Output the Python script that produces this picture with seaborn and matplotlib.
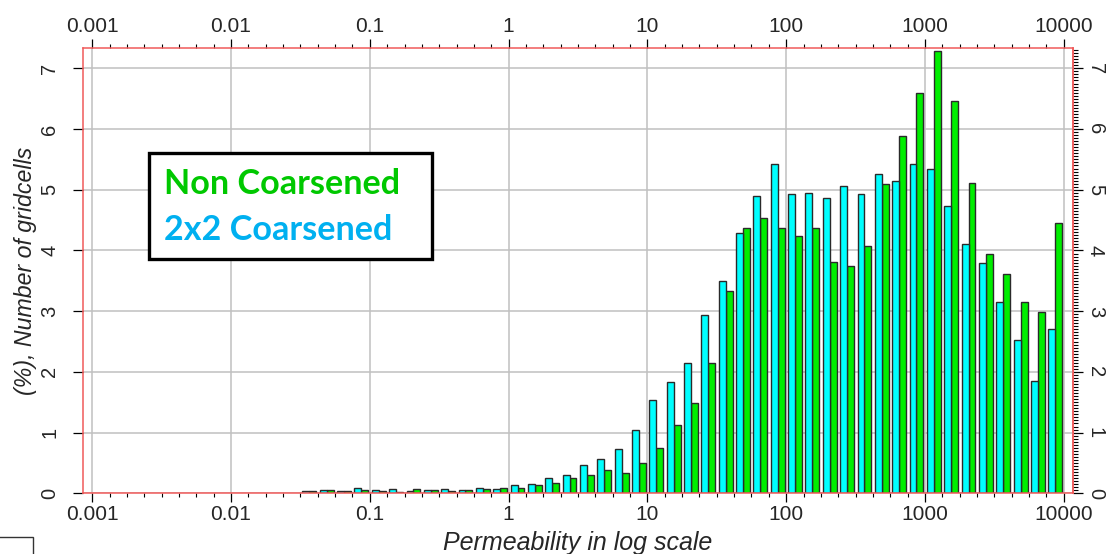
import numpy as np
import pandas as pd
import matplotlib
matplotlib.use("Agg")
import matplotlib.pyplot as plt
from matplotlib.patches import Rectangle
from matplotlib.ticker import FixedLocator, NullFormatter
import seaborn as sns

# Histogram bins: 8 per decade of permeability, from 10^-1.5 up to 10^4
bins_per_decade = 8
log_edge_first = -1.5
log_edge_last = 4.0

# Percentage of gridcells in each bin
coarse_2x2 = [0.03, 0.05, 0.03, 0.08, 0.05, 0.07, 0.03, 0.05, 0.07, 0.05, 0.09, 0.07,
              0.13, 0.15, 0.26, 0.30, 0.46, 0.56, 0.73, 1.05,
              1.54, 1.83, 2.14, 2.94, 3.50, 4.28, 4.90, 5.42,
              4.93, 4.95, 4.86, 5.07, 4.93, 5.26, 5.15, 5.43,
              5.35, 4.73, 4.11, 3.79, 3.15, 2.52, 1.85, 2.70]
non_coarse = [0.03, 0.05, 0.03, 0.05, 0.03, 0.02, 0.07, 0.05, 0.03, 0.05, 0.07, 0.09,
              0.09, 0.13, 0.17, 0.26, 0.30, 0.39, 0.33, 0.50,
              0.74, 1.12, 1.49, 2.15, 3.33, 4.37, 4.54, 4.37,
              4.24, 4.37, 3.81, 3.75, 4.07, 5.10, 5.88, 6.60,
              7.29, 6.46, 5.11, 3.95, 3.62, 3.15, 2.98, 4.45]

case_names = ["2x2 Coarsened", "Non Coarsened"]
x_tick_labels = ["0.001", "0.01", "0.1", "1", "10", "100", "1000", "10000"]
y_tick_values = [0, 1, 2, 3, 4, 5, 6, 7]

bar_colors = {"2x2 Coarsened": "#00FFFF", "Non Coarsened": "#00EE00"}
text_colors = {"2x2 Coarsened": "#00B0F0", "Non Coarsened": "#00C800"}
frame_red = "#f05a5a"

n_bins = len(coarse_2x2)
log_edges = np.linspace(log_edge_first, log_edge_last, n_bins + 1)
centers = 10 ** ((log_edges[:-1] + log_edges[1:]) / 2)

df = pd.concat([
    pd.DataFrame({"permeability": centers, "percent": coarse_2x2, "case": case_names[0]}),
    pd.DataFrame({"permeability": centers, "percent": non_coarse, "case": case_names[1]}),
], ignore_index=True)

sns.set_theme(style="white")
plt.rcParams["font.family"] = ["Liberation Sans", "DejaVu Sans"]

fig = plt.figure(figsize=(11.07, 5.54), dpi=100)
ax = fig.add_axes([82.7 / 1107, 1 - 493.3 / 554, (1073.3 - 82.7) / 1107, (493.3 - 47.7) / 554])

sns.histplot(data=df, x="permeability", weights="percent", hue="case",
             hue_order=case_names, palette=bar_colors, bins=log_edges.tolist(),
             log_scale=True, multiple="dodge", shrink=0.8, alpha=1,
             edgecolor="#2a2a2a", linewidth=1.0, legend=False, ax=ax)

ax.set_xlim(10 ** -3.069, 10 ** 4.069)
ax.set_ylim(0, 7.34)

# Decade ticks with bin-edge minor ticks
x_major = [float(s) for s in x_tick_labels]
ax.xaxis.set_major_locator(FixedLocator(x_major))
ax.set_xticks(x_major, x_tick_labels)
ax.xaxis.set_minor_locator(FixedLocator(10 ** np.arange(-3, 4.0001, 1 / bins_per_decade)))
ax.xaxis.set_minor_formatter(NullFormatter())
ax.tick_params(axis="x", which="both", direction="out", bottom=True, top=True,
               labelbottom=True, labeltop=True, color="black", labelsize=15, pad=2)
ax.tick_params(axis="x", which="major", length=6.5, width=0.9)
ax.tick_params(axis="x", which="minor", length=3.2, width=0.8)

y_minor = np.arange(0, 7.34, 0.05)


def style_y(axis_obj, side, rotation, pad):
    axis_obj.set_yticks(y_tick_values, [str(v) for v in y_tick_values])
    axis_obj.yaxis.set_minor_locator(FixedLocator(y_minor))
    axis_obj.tick_params(axis="y", which="both", direction="out", color="black",
                         labelsize=14.5, pad=pad)
    axis_obj.tick_params(axis="y", which="major", length=7, width=0.9)
    axis_obj.tick_params(axis="y", which="minor", length=3.5, width=0.8)
    for lab in axis_obj.get_yticklabels():
        lab.set_rotation(rotation)
        lab.set_va("center")
        lab.set_ha("right" if side == "left" else "left")


ax.tick_params(axis="y", left=True, right=False, labelleft=True, labelright=False)
style_y(ax, "left", 90, 10)

ax_right = ax.secondary_yaxis("right")
style_y(ax_right, "right", 270, 2)
ax_right.spines["right"].set_color(frame_red)
ax_right.spines["right"].set_linewidth(1.1)

ax.grid(True, which="major", color="#c0c0c0", linewidth=1.1)
ax.set_axisbelow(True)
for sp in ax.spines.values():
    sp.set_visible(True)
    sp.set_color(frame_red)
    sp.set_linewidth(1.1)

ax.set_xlabel("Permeability in log scale", fontsize=18, style="italic")
ax.xaxis.label.set_va("center")
ax.xaxis.set_label_coords(0.5, (493.3 - 543) / 445.6)
ax.set_ylabel("(%), Number of gridcells", fontsize=16.7, style="italic")
ax.yaxis.label.set_va("center")
ax.yaxis.set_label_coords((26 - 82.7) / 990.6, 0.5)

# Framed series key
fig.add_artist(Rectangle((149 / 1107, 1 - 259 / 554), 283 / 1107, 106 / 554,
                         transform=fig.transFigure, facecolor="white",
                         edgecolor="black", linewidth=2.4, zorder=5))
fig.text(164 / 1107, 1 - 184 / 554, "Non Coarsened", color=text_colors["Non Coarsened"],
         fontsize=24.6, fontweight="bold", family=["Lato", "DejaVu Sans"],
         ha="left", va="center", zorder=6)
fig.text(164 / 1107, 1 - 230 / 554, "2x2 Coarsened", color=text_colors["2x2 Coarsened"],
         fontsize=24.6, fontweight="bold", family=["Lato", "DejaVu Sans"],
         ha="left", va="center", zorder=6)

# Small frame in the lower-left corner
fig.add_artist(Rectangle((-10 / 1107, -10 / 554), 43 / 1107, 27 / 554,
                         transform=fig.transFigure, facecolor="none",
                         edgecolor="#333333", linewidth=1.0))

fig.savefig("out.png", dpi=100)
